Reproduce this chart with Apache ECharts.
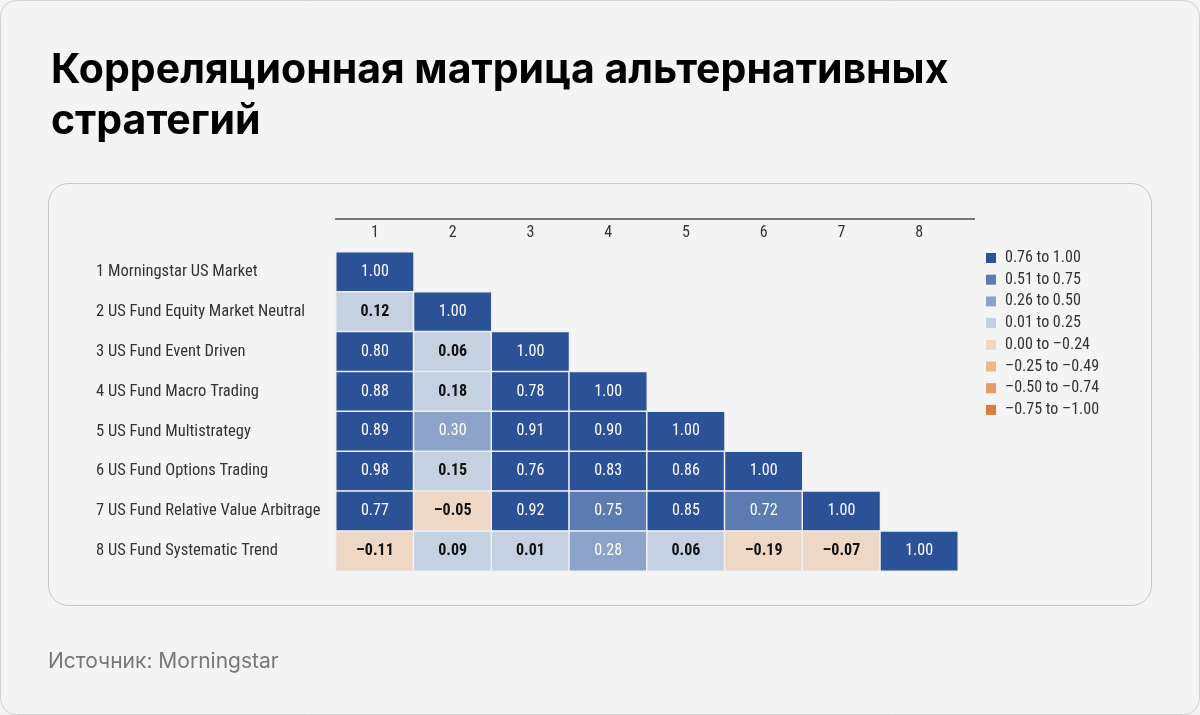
<!DOCTYPE html>
<html>
<head>
<meta charset="utf-8">
<script src="https://cdn.jsdelivr.net/npm/echarts@6/dist/echarts.min.js"></script>
<style>
html,body{margin:0;padding:0;background:#f4f4f4;}
#chart{width:1200px;height:715px;}
</style>
</head>
<body>
<div id="chart"></div>
<script>
const columns = ['1','2','3','4','5','6','7','8'];
const rowLabels = [
  '1 Morningstar US Market',
  '2 US Fund Equity Market Neutral',
  '3 US Fund Event Driven',
  '4 US Fund Macro Trading',
  '5 US Fund Multistrategy',
  '6 US Fund Options Trading',
  '7 US Fund Relative Value Arbitrage',
  '8 US Fund Systematic Trend'
];
const row1 = [1.00];
const row2 = [0.12, 1.00];
const row3 = [0.80, 0.06, 1.00];
const row4 = [0.88, 0.18, 0.78, 1.00];
const row5 = [0.89, 0.30, 0.91, 0.90, 1.00];
const row6 = [0.98, 0.15, 0.76, 0.83, 0.86, 1.00];
const row7 = [0.77, -0.05, 0.92, 0.75, 0.85, 0.72, 1.00];
const row8 = [-0.11, 0.09, 0.01, 0.28, 0.06, -0.19, -0.07, 1.00];
const matrixRows = [row1, row2, row3, row4, row5, row6, row7, row8];

const legendLabels = ['0.76 to 1.00','0.51 to 0.75','0.26 to 0.50','0.01 to 0.25','0.00 to \u20130.24','\u20130.25 to \u20130.49','\u20130.50 to \u20130.74','\u20130.75 to \u20131.00'];
const legendColors = ['#2b5197','#5b7bb1','#8ca2c8','#c5d0e0','#efd7c5','#e8b991','#e49b65','#de7b39'];
const legendBounds = [[0.755, 1.0], [0.505, 0.755], [0.255, 0.505], [0.005, 0.255], [-0.245, 0.005], [-0.495, -0.245], [-0.745, -0.495], [-1.0, -0.745]];

const FONT = '"Liberation Sans Narrow", "Roboto Condensed", Roboto, sans-serif';

function fmt(v) {
  const s = Math.abs(v).toFixed(2);
  return v < 0 ? '\u2013' + s : s;
}

const data = [];
matrixRows.forEach((row, r) => {
  row.forEach((v, c) => {
    const dark = v >= 0.255;
    data.push({
      value: [c, r, v],
      label: { color: dark ? '#ffffff' : '#111111', fontWeight: dark ? 'normal' : 'bold' }
    });
  });
});

const pieces = legendLabels.map((lab, i) => ({
  gt: legendBounds[i][0], lte: legendBounds[i][1], label: lab, color: legendColors[i]
}));

const chart = echarts.init(document.getElementById('chart'), null, {renderer: 'canvas'});
chart.setOption({
  backgroundColor: '#f4f4f4',
  animation: false,
  title: {
    text: 'Корреляционная матрица альтернативных\nстратегий',
    left: 46, top: 40,
    textStyle: { fontFamily: 'Inter, "Noto Sans", sans-serif', fontSize: 41, fontWeight: 'bold', color: '#000', lineHeight: 51 }
  },
  graphic: [
    { type: 'rect', shape: { x: 0.5, y: 0.5, width: 1199, height: 714, r: 16 }, style: { fill: 'none', stroke: '#d0d0d0', lineWidth: 1 }, z: -10 },
    { type: 'rect', shape: { x: 48.5, y: 183.5, width: 1103, height: 422, r: 20 }, style: { fill: '#f4f4f4', stroke: '#c6c6c6', lineWidth: 1 }, z: -9 },
    { type: 'line', shape: { x1: 335, y1: 219, x2: 975, y2: 219 }, style: { stroke: '#777', lineWidth: 2 }, z: 5 },
    { type: 'text', left: 48, top: 651, style: { text: 'Источник: Morningstar', font: '21px Inter, "Noto Sans", sans-serif', fill: '#777' } }
  ],
  grid: { left: 336, top: 252, width: 622, height: 319, containLabel: false },
  xAxis: {
    type: 'category', data: columns, position: 'top',
    axisLine: { show: false }, axisTick: { show: false }, splitLine: { show: false },
    axisLabel: { margin: 11, fontFamily: FONT, fontSize: 16, color: '#333' }
  },
  yAxis: {
    type: 'category', data: rowLabels, inverse: true,
    axisLine: { show: false }, axisTick: { show: false }, splitLine: { show: false },
    axisLabel: { margin: 240, align: 'left', fontFamily: FONT, fontSize: 16.5, color: '#333' }
  },
  visualMap: {
    type: 'piecewise', dimension: 2, pieces: pieces, orient: 'vertical', align: 'left',
    left: 981, top: 245, padding: 5, itemWidth: 10, itemHeight: 10, itemGap: 5.7, itemSymbol: 'rect',
    textGap: 9, selectedMode: false, hoverLink: false,
    textStyle: { fontFamily: FONT, fontSize: 16, color: '#333' }
  },
  series: [{
    type: 'heatmap', data: data,
    itemStyle: { borderColor: '#eef0f3', borderWidth: 1.5 },
    label: { show: true, fontFamily: FONT, fontSize: 16, formatter: p => fmt(p.value[2]) },
    emphasis: { disabled: true }
  }]
});
</script>
</body>
</html>
